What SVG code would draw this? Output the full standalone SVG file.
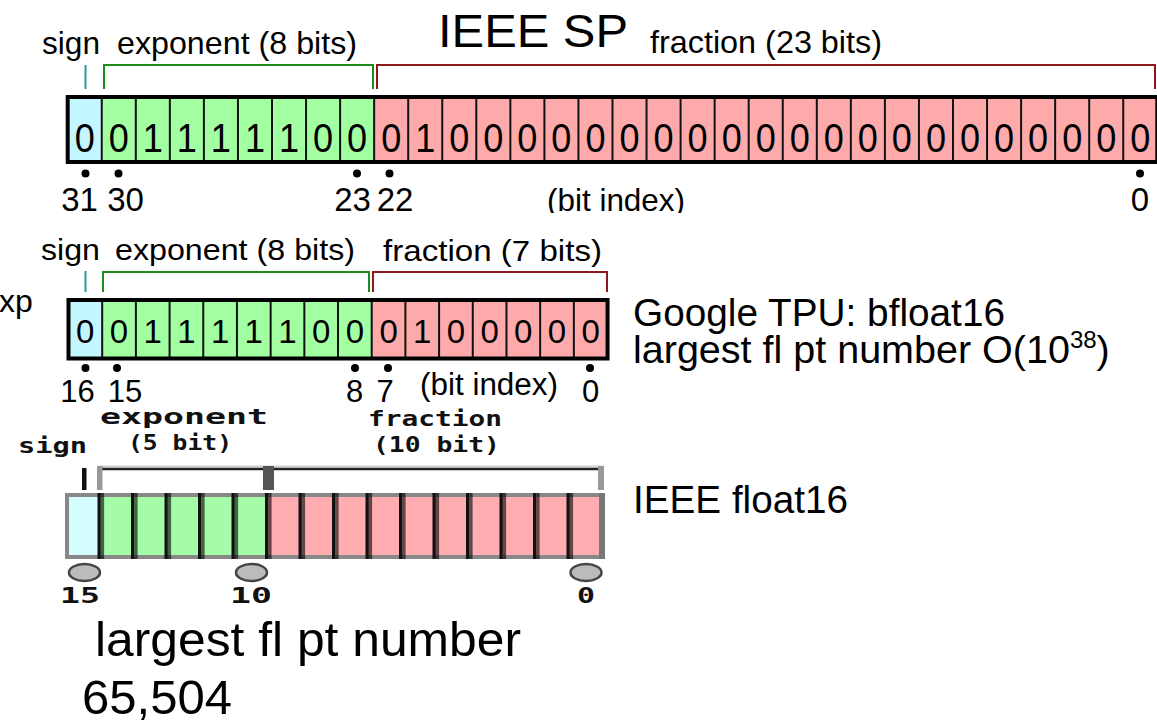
<svg xmlns="http://www.w3.org/2000/svg" width="1157" height="721" viewBox="0 0 1157 721">
<style>
text{font-family:"Liberation Sans",Arial,sans-serif;fill:#000}
.lbl{font-size:32px}
.dig{font-size:41px;text-anchor:middle}
.dig2{font-size:33px;text-anchor:middle}
.idx{font-size:33px;text-anchor:middle}
.idx2{font-size:31px;text-anchor:middle}
.big{font-size:38px}
.huge{font-size:49px}
.px{font-family:"DejaVu Sans Mono","Liberation Mono",monospace;font-weight:bold;font-size:21px;fill:#111}
.div{stroke:#111;stroke-width:2}
.dot{fill:#000}
.sgn{fill:#c4f6ff}.exp{fill:#a2ffa2}.frc{fill:#ffaaaa}
.bs{stroke:#2a9aa0;stroke-width:2;fill:none}
.be{stroke:#1c8c1c;stroke-width:2;fill:none}
.bf{stroke:#8c1a1a;stroke-width:2;fill:none}
</style>
<defs>
<clipPath id="clipTop"><rect x="0" y="0" width="1157" height="213"/></clipPath>
</defs>
<rect width="1157" height="721" fill="#fff"/>

<!-- IEEE SP -->
<g id="ieee-sp" clip-path="url(#clipTop)">
<text class="lbl" x="42" y="54" textLength="58" lengthAdjust="spacingAndGlyphs">sign</text>
<text class="lbl" x="117" y="54" textLength="240" lengthAdjust="spacingAndGlyphs">exponent (8 bits)</text>
<text x="438" y="47" style="font-size:47px" textLength="190" lengthAdjust="spacingAndGlyphs">IEEE SP</text>
<text class="lbl" x="650" y="53" textLength="232" lengthAdjust="spacingAndGlyphs">fraction (23 bits)</text>
<line class="bs" x1="85.5" y1="65" x2="85.5" y2="89"/>
<polyline class="be" points="104,89 104,65 373,65 373,89"/>
<polyline class="bf" points="377,89 377,65 1155,65 1155,89"/>
<rect class="sgn" x="67.7" y="97" width="34.05" height="65"/>
<rect class="exp" x="101.75" y="97" width="272.4" height="65"/>
<rect class="frc" x="374.15" y="97" width="783.15" height="65"/>
<g class="div">
<line x1="101.75" y1="97" x2="101.75" y2="162"/><line x1="135.8" y1="97" x2="135.8" y2="162"/><line x1="169.85" y1="97" x2="169.85" y2="162"/><line x1="203.9" y1="97" x2="203.9" y2="162"/><line x1="237.95" y1="97" x2="237.95" y2="162"/><line x1="272" y1="97" x2="272" y2="162"/><line x1="306.05" y1="97" x2="306.05" y2="162"/><line x1="340.1" y1="97" x2="340.1" y2="162"/><line x1="374.15" y1="97" x2="374.15" y2="162"/><line x1="408.2" y1="97" x2="408.2" y2="162"/><line x1="442.25" y1="97" x2="442.25" y2="162"/><line x1="476.3" y1="97" x2="476.3" y2="162"/><line x1="510.35" y1="97" x2="510.35" y2="162"/><line x1="544.4" y1="97" x2="544.4" y2="162"/><line x1="578.45" y1="97" x2="578.45" y2="162"/><line x1="612.5" y1="97" x2="612.5" y2="162"/><line x1="646.55" y1="97" x2="646.55" y2="162"/><line x1="680.6" y1="97" x2="680.6" y2="162"/><line x1="714.65" y1="97" x2="714.65" y2="162"/><line x1="748.7" y1="97" x2="748.7" y2="162"/><line x1="782.75" y1="97" x2="782.75" y2="162"/><line x1="816.8" y1="97" x2="816.8" y2="162"/><line x1="850.85" y1="97" x2="850.85" y2="162"/><line x1="884.9" y1="97" x2="884.9" y2="162"/><line x1="918.95" y1="97" x2="918.95" y2="162"/><line x1="953" y1="97" x2="953" y2="162"/><line x1="987.05" y1="97" x2="987.05" y2="162"/><line x1="1021.1" y1="97" x2="1021.1" y2="162"/><line x1="1055.15" y1="97" x2="1055.15" y2="162"/><line x1="1089.2" y1="97" x2="1089.2" y2="162"/><line x1="1123.25" y1="97" x2="1123.25" y2="162"/>
</g>
<rect x="67.7" y="97" width="1089.6" height="65" fill="none" stroke="#000" stroke-width="4"/>
<g class="dig">
<text transform="translate(84.7,152) scale(0.88,1)">0</text>
<text transform="translate(118.8,152) scale(0.88,1)">0</text>
<text transform="translate(152.8,152) scale(0.88,1)">1</text>
<text transform="translate(186.9,152) scale(0.88,1)">1</text>
<text transform="translate(220.9,152) scale(0.88,1)">1</text>
<text transform="translate(255,152) scale(0.88,1)">1</text>
<text transform="translate(289,152) scale(0.88,1)">1</text>
<text transform="translate(323.1,152) scale(0.88,1)">0</text>
<text transform="translate(357.1,152) scale(0.88,1)">0</text>
<text transform="translate(391.2,152) scale(0.88,1)">0</text>
<text transform="translate(425.2,152) scale(0.88,1)">1</text>
<text transform="translate(459.3,152) scale(0.88,1)">0</text>
<text transform="translate(493.3,152) scale(0.88,1)">0</text>
<text transform="translate(527.4,152) scale(0.88,1)">0</text>
<text transform="translate(561.4,152) scale(0.88,1)">0</text>
<text transform="translate(595.5,152) scale(0.88,1)">0</text>
<text transform="translate(629.5,152) scale(0.88,1)">0</text>
<text transform="translate(663.6,152) scale(0.88,1)">0</text>
<text transform="translate(697.6,152) scale(0.88,1)">0</text>
<text transform="translate(731.7,152) scale(0.88,1)">0</text>
<text transform="translate(765.7,152) scale(0.88,1)">0</text>
<text transform="translate(799.8,152) scale(0.88,1)">0</text>
<text transform="translate(833.8,152) scale(0.88,1)">0</text>
<text transform="translate(867.9,152) scale(0.88,1)">0</text>
<text transform="translate(901.9,152) scale(0.88,1)">0</text>
<text transform="translate(936,152) scale(0.88,1)">0</text>
<text transform="translate(970,152) scale(0.88,1)">0</text>
<text transform="translate(1004.1,152) scale(0.88,1)">0</text>
<text transform="translate(1038.1,152) scale(0.88,1)">0</text>
<text transform="translate(1072.2,152) scale(0.88,1)">0</text>
<text transform="translate(1106.2,152) scale(0.88,1)">0</text>
<text transform="translate(1140.3,152) scale(0.88,1)">0</text>
</g>
<circle class="dot" cx="85.5" cy="173.5" r="4"/><circle class="dot" cx="118.5" cy="173.5" r="4"/><circle class="dot" cx="357" cy="173.5" r="4"/><circle class="dot" cx="389.5" cy="173.5" r="4"/><circle class="dot" cx="1140" cy="173.5" r="4"/>
<text class="idx" x="79.5" y="211">31</text>
<text class="idx" x="125.5" y="211">30</text>
<text class="idx" x="352.5" y="211">23</text>
<text class="idx" x="395" y="211">22</text>
<text class="idx" x="616" y="211" style="font-size:32px" textLength="138" lengthAdjust="spacingAndGlyphs">(bit index)</text>
<text class="idx" x="1140" y="211">0</text>
</g>

<!-- bfloat16 -->
<g id="bfloat16">
<text x="-1" y="312" style="font-size:32px">xp</text>
<text class="lbl" x="41" y="260" style="font-size:30px" textLength="59" lengthAdjust="spacingAndGlyphs">sign</text>
<text class="lbl" x="115" y="260" style="font-size:30px" textLength="240" lengthAdjust="spacingAndGlyphs">exponent (8 bits)</text>
<text class="lbl" x="383" y="261" style="font-size:30px" textLength="219" lengthAdjust="spacingAndGlyphs">fraction (7 bits)</text>
<line class="bs" x1="85.5" y1="271" x2="85.5" y2="292"/>
<polyline class="be" points="103,292 103,272 369,272 369,292"/>
<polyline class="bf" points="373,292 373,272 607,272 607,292"/>
<rect class="sgn" x="68.5" y="300" width="33.69" height="58.5"/>
<rect class="exp" x="102.19" y="300" width="269.52" height="58.5"/>
<rect class="frc" x="371.71" y="300" width="235.83" height="58.5"/>
<g class="div">
<line x1="102.19" y1="300" x2="102.19" y2="358.5"/><line x1="135.88" y1="300" x2="135.88" y2="358.5"/><line x1="169.57" y1="300" x2="169.57" y2="358.5"/><line x1="203.26" y1="300" x2="203.26" y2="358.5"/><line x1="236.95" y1="300" x2="236.95" y2="358.5"/><line x1="270.64" y1="300" x2="270.64" y2="358.5"/><line x1="304.33" y1="300" x2="304.33" y2="358.5"/><line x1="338.02" y1="300" x2="338.02" y2="358.5"/><line x1="371.71" y1="300" x2="371.71" y2="358.5"/><line x1="405.4" y1="300" x2="405.4" y2="358.5"/><line x1="439.09" y1="300" x2="439.09" y2="358.5"/><line x1="472.78" y1="300" x2="472.78" y2="358.5"/><line x1="506.47" y1="300" x2="506.47" y2="358.5"/><line x1="540.16" y1="300" x2="540.16" y2="358.5"/><line x1="573.85" y1="300" x2="573.85" y2="358.5"/>
</g>
<rect x="68.5" y="300" width="539.04" height="58.5" fill="none" stroke="#000" stroke-width="4"/>
<g class="dig2">
<text x="85.3" y="343">0</text><text x="119" y="343">0</text><text x="152.7" y="343">1</text><text x="186.4" y="343">1</text><text x="220.1" y="343">1</text><text x="253.8" y="343">1</text><text x="287.5" y="343">1</text><text x="321.2" y="343">0</text><text x="354.9" y="343">0</text><text x="388.6" y="343">0</text><text x="422.2" y="343">1</text><text x="455.9" y="343">0</text><text x="489.6" y="343">0</text><text x="523.3" y="343">0</text><text x="557" y="343">0</text><text x="590.7" y="343">0</text>
</g>
<circle class="dot" cx="85.5" cy="368" r="4"/><circle class="dot" cx="117" cy="368" r="4"/><circle class="dot" cx="355" cy="368" r="4"/><circle class="dot" cx="388" cy="368" r="4"/><circle class="dot" cx="590" cy="368" r="4"/>
<text class="idx2" x="77.5" y="402">16</text>
<text class="idx2" x="125" y="402">15</text>
<text class="idx2" x="354.5" y="402">8</text>
<text class="idx2" x="385" y="402">7</text>
<text class="idx2" x="489" y="395" textLength="138" lengthAdjust="spacingAndGlyphs">(bit index)</text>
<text class="idx2" x="590.5" y="402">0</text>
<text class="big" x="633" y="326" textLength="372" lengthAdjust="spacingAndGlyphs">Google TPU: bfloat16</text>
<text class="big" x="633" y="363" style="font-size:39.5px">largest fl pt number O(10<tspan dy="-15" style="font-size:24px">38</tspan><tspan dy="15">)</tspan></text>
</g>

<!-- IEEE float16 -->
<g id="float16">
<text class="px" x="18" y="453" textLength="69" lengthAdjust="spacingAndGlyphs">sign</text>
<text class="px" x="100" y="424" textLength="168" lengthAdjust="spacingAndGlyphs">exponent</text>
<text class="px" x="128" y="450" textLength="104" lengthAdjust="spacingAndGlyphs">(5 bit)</text>
<text class="px" x="368" y="426" textLength="134" lengthAdjust="spacingAndGlyphs">fraction</text>
<text class="px" x="373" y="452" textLength="127" lengthAdjust="spacingAndGlyphs">(10 bit)</text>
<line x1="98" y1="466.5" x2="603" y2="466.5" stroke="#d0d0d0" stroke-width="2"/>
<line x1="100" y1="469" x2="603" y2="469" stroke="#222" stroke-width="2.5"/>
<rect x="82" y="468" width="4.5" height="22" fill="#111"/>
<rect x="97" y="466" width="5.5" height="24" fill="#999"/>
<rect x="263" y="466" width="11" height="24" fill="#555"/>
<rect x="598" y="466" width="6" height="24" fill="#999"/>
<rect x="67" y="495" width="33.5" height="62" fill="#d5fcff"/>
<rect x="100.5" y="495" width="167.5" height="62" fill="#a4fca9"/>
<rect x="268" y="495" width="335" height="62" fill="#ffadb1"/>
<rect x="65" y="493" width="540" height="4" fill="#888"/>
<rect x="65" y="555" width="540" height="4" fill="#888"/>
<rect x="65" y="493" width="4" height="66" fill="#888"/>
<rect x="599" y="493" width="6" height="66" fill="#777"/>
<g fill="#111">
<rect x="97.5" y="493" width="3.3" height="66"/><rect x="131" y="493" width="3.3" height="66"/><rect x="164.5" y="493" width="3.3" height="66"/><rect x="198" y="493" width="3.3" height="66"/><rect x="231.5" y="493" width="3.3" height="66"/><rect x="265" y="493" width="3.3" height="66"/><rect x="298.5" y="493" width="3.3" height="66"/><rect x="332" y="493" width="3.3" height="66"/><rect x="365.5" y="493" width="3.3" height="66"/><rect x="399" y="493" width="3.3" height="66"/><rect x="432.5" y="493" width="3.3" height="66"/><rect x="466" y="493" width="3.3" height="66"/><rect x="499.5" y="493" width="3.3" height="66"/><rect x="533" y="493" width="3.3" height="66"/><rect x="566.5" y="493" width="3.3" height="66"/>
</g>
<g fill="#000" fill-opacity="0.6">
<rect x="100.8" y="493" width="3.3" height="66"/><rect x="134.3" y="493" width="3.3" height="66"/><rect x="167.8" y="493" width="3.3" height="66"/><rect x="201.3" y="493" width="3.3" height="66"/><rect x="234.8" y="493" width="3.3" height="66"/><rect x="268.3" y="493" width="3.3" height="66"/><rect x="301.8" y="493" width="3.3" height="66"/><rect x="335.3" y="493" width="3.3" height="66"/><rect x="368.8" y="493" width="3.3" height="66"/><rect x="402.3" y="493" width="3.3" height="66"/><rect x="435.8" y="493" width="3.3" height="66"/><rect x="469.3" y="493" width="3.3" height="66"/><rect x="502.8" y="493" width="3.3" height="66"/><rect x="536.3" y="493" width="3.3" height="66"/><rect x="569.8" y="493" width="3.3" height="66"/>
</g>
<g fill="#bbb" stroke="#444" stroke-width="2.5">
<ellipse cx="84.5" cy="572.5" rx="15.5" ry="8.5"/>
<ellipse cx="251.5" cy="572.5" rx="15.5" ry="8.5"/>
<ellipse cx="586" cy="572.5" rx="15.5" ry="8.5"/>
</g>
<text class="px" x="60" y="603" textLength="40" lengthAdjust="spacingAndGlyphs">15</text>
<text class="px" x="230" y="603" textLength="42" lengthAdjust="spacingAndGlyphs">10</text>
<text class="px" x="577" y="603" textLength="18" lengthAdjust="spacingAndGlyphs">0</text>
<text class="big" x="633" y="513" textLength="215" lengthAdjust="spacingAndGlyphs">IEEE float16</text>
<text class="huge" x="95" y="656" textLength="426" lengthAdjust="spacingAndGlyphs">largest fl pt number</text>
<text class="huge" x="82" y="714" textLength="150" lengthAdjust="spacingAndGlyphs">65,504</text>
</g>
</svg>
